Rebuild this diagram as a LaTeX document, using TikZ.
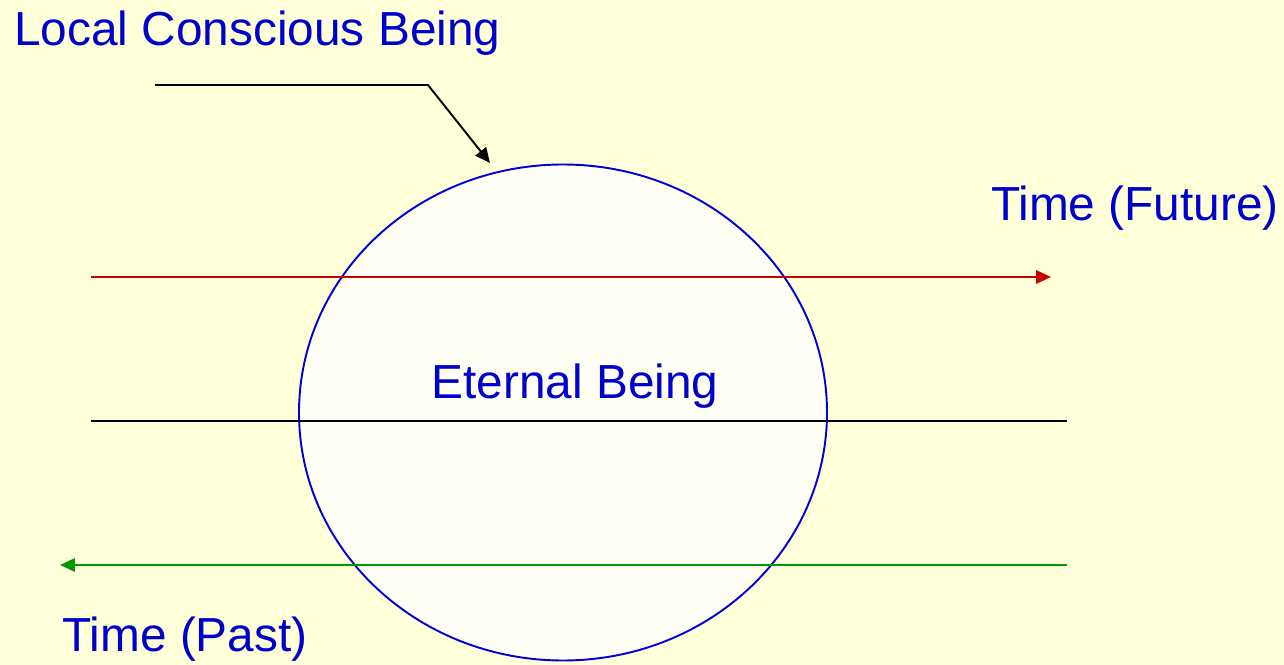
\documentclass[tikz,border=0pt]{standalone}
\usepackage{fontspec}
\setmainfont{Liberation Sans}
\usetikzlibrary{arrows.meta,positioning}
\definecolor{bgyellow}{RGB}{255,255,217}
\definecolor{circfill}{RGB}{255,255,245}
\definecolor{txtblue}{RGB}{0,0,204}
\definecolor{futred}{RGB}{204,0,0}
\definecolor{pastgreen}{RGB}{0,153,0}

\begin{document}
\begin{tikzpicture}[
    x=0.02cm, y=-0.02cm,
    lbl/.style={text=txtblue, font=\fontsize{27.2}{31}\selectfont, inner sep=0pt},
    timeline/.style={line width=1.1pt},
    tip/.style={-{Triangle[length=0.3cm, width=0.27cm]}}
]
    % Background
    \fill[bgyellow] (0, 0) rectangle (1284, 665);
    \useasboundingbox (0, 0) rectangle (1284, 665);

    % Eternal Being
    \draw[draw=blue!85!black, line width=1.1pt, fill=circfill] (563, 412.5) ellipse [x radius=264, y radius=248];
    \node[lbl] (eternal) at (575, 386) {Eternal Being};

    % Time lines
    \coordinate (futA) at (91, 277);
    \coordinate (futB) at (1051, 277);
    \coordinate (nowA) at (91, 421);
    \coordinate (nowB) at (1067, 421);
    \coordinate (pastA) at (1067, 565);
    \coordinate (pastB) at (60, 565);
    \draw[timeline, tip, futred] (futA) -- (futB);
    \draw[timeline] (nowA) -- (nowB);
    \draw[timeline, tip, pastgreen] (pastA) -- (pastB);

    % Labels
    \node[lbl, anchor=west] (local) at (14, 33) {Local Conscious Being};
    \node[lbl, anchor=east] (future) at (1279, 208) {Time (Future)};
    \node[lbl, anchor=west] (past) at (62, 639) {Time (Past)};

    % Pointer
    \coordinate (ptrA) at (155, 85);
    \coordinate (ptrB) at (428, 85);
    \coordinate (ptrC) at (490, 163);
    \draw[timeline, tip] (ptrA) -- (ptrB) -- (ptrC);
\end{tikzpicture}
\end{document}
